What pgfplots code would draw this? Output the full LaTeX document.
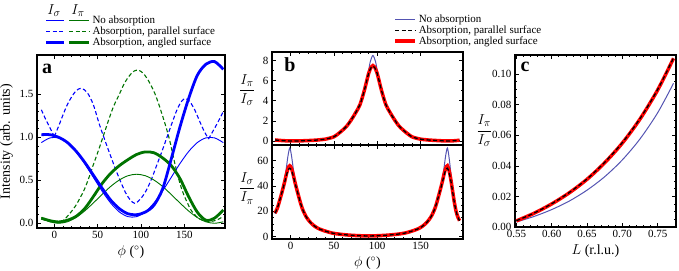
\documentclass[border=0pt]{standalone}
\usepackage{pgfplots}
\pgfplotsset{compat=1.18}
\usepackage{fontspec}
\setmainfont{Liberation Serif}
\definecolor{ablue}{rgb}{0,0,1}
\definecolor{agreen}{rgb}{0,0.45,0}
\definecolor{bblue}{rgb}{0.33,0.33,0.70}
\pgfplotsset{
  every axis/.append style={
    scale only axis,
    axis line style={line width=1.1pt},
    tick style={black, line width=0.6pt},
    major tick length=4pt, minor tick length=2pt,
    tick align=inside,
    tick label style={font=\fontsize{11}{12}\selectfont},
    /pgf/number format/assume math mode=true,
    label style={font=\fontsize{14}{16}\selectfont},
    scaled x ticks=false, scaled y ticks=false,
  },
}
\begin{document}
\begin{tikzpicture}
\useasboundingbox (0,0) rectangle (679pt,270pt);

% ---------------- Panel a ----------------
\begin{axis}[at={(37pt,42pt)}, width=188pt, height=173pt,
  xmin=-20, xmax=197, ymin=-0.055, ymax=1.957,
  xtick={0,50,100,150}, minor x tick num=4,
  ytick={0,0.5,1,1.5}, minor y tick num=4,
  yticklabel style={/pgf/number format/.cd, fixed, fixed zerofill, precision=1},
  xlabel={$\phi$ ($^\circ$)}, ylabel={Intensity (arb. units)},
  legend style={at={(0.04,1.237)}, anchor=north west, draw=none, fill=none,
    font=\fontsize{11}{12}\selectfont, row sep=-2.5pt, inner sep=0pt},
  legend cell align=left]
% absorption, parallel surface (dashed)
\addplot[agreen, line width=1.1pt, dash pattern=on 4pt off 2.5pt, smooth, forget plot] coordinates {
(-15,0.05) (-5,0.02) (5,0.02) (10,0.03) (15,0.08) (20,0.14) (25,0.21) (30,0.30) (35,0.40) (41,0.56) (45,0.68) (50,0.82) (56,1.00) (62,1.18) (68,1.35) (75,1.50) (81,1.63) (87,1.72) (92,1.77) (97,1.78) (102,1.75) (108,1.67) (116,1.51) (122,1.34) (128,1.15) (133,0.97) (139,0.70) (144,0.50) (148,0.37) (153,0.25) (158,0.15) (165,0.07) (172,0.03) (180,0.02) (188,0.04) (195,0.08)};
\addplot[ablue, line width=1.1pt, dash pattern=on 4pt off 2.5pt, smooth, forget plot] coordinates {
(-15,1.32) (-10,1.21) (-5,1.11) (0,1.01)};
\addplot[ablue, line width=1.1pt, dash pattern=on 4pt off 2.5pt, smooth, forget plot] coordinates {
(0,1.01) (5,1.13) (10,1.26) (15,1.38) (20,1.47) (25,1.54) (31,1.57) (38,1.52) (45,1.38) (52,1.15) (60,0.92) (68,0.70) (75,0.52) (82,0.36) (87,0.28) (93,0.23) (100,0.29) (106,0.38) (112,0.51) (118,0.67) (124,0.83) (130,1.00) (136,1.17) (142,1.33) (147,1.42) (151,1.45) (156,1.42) (162,1.32) (168,1.18) (173,1.07) (178,0.98)};
\addplot[ablue, line width=1.1pt, dash pattern=on 4pt off 2.5pt, smooth, forget plot] coordinates {
(178,0.98) (183,1.07) (188,1.16) (195,1.30)};
% no absorption (thin)
\addplot[agreen, line width=0.9pt, smooth, forget plot] coordinates {
(-15,0.067) (-5,0.017) (5,0) (15,0.017) (25,0.067) (35,0.143) (45,0.236) (55,0.334) (65,0.428) (75,0.503) (85,0.553) (95,0.57) (105,0.553) (115,0.503) (125,0.428) (135,0.334) (145,0.236) (155,0.143) (165,0.067) (175,0.017) (185,0) (195,0.017)};
\addplot[ablue, line width=0.9pt, smooth, forget plot] coordinates {
(-15,0.938) (-5,0.993) (5,0.993) (15,0.938) (25,0.834) (35,0.694) (45,0.535) (55,0.376) (65,0.236) (75,0.132) (85,0.077) (95,0.077) (105,0.132) (115,0.236) (125,0.376) (135,0.535) (145,0.694) (155,0.834) (165,0.938) (175,0.993) (185,0.993) (195,0.938)};
% absorption, angled surface (thick)
\addplot[agreen, line width=2.8pt, smooth, forget plot] coordinates {
(-15,0.06) (-5,0.03) (5,0.015) (15,0.035) (25,0.08) (35,0.17) (45,0.31) (55,0.46) (65,0.58) (75,0.67) (85,0.74) (95,0.80) (105,0.83) (115,0.82) (125,0.76) (135,0.67) (145,0.52) (155,0.31) (165,0.13) (175,0.035) (185,0.06) (195,0.155)};
\addplot[ablue, line width=2.8pt, smooth, forget plot] coordinates {
(-15,1.03) (-5,1.03) (5,1.00) (15,0.94) (25,0.84) (35,0.71) (45,0.56) (55,0.41) (65,0.27) (75,0.17) (85,0.11) (95,0.10) (105,0.13) (115,0.21) (125,0.40) (135,0.75) (145,1.12) (155,1.45) (165,1.72) (175,1.85) (185,1.88) (195,1.79)};
% legend
\addlegendimage{legend image code/.code={\draw[ablue,line width=0.9pt](0pt,0pt)--(18pt,0pt);\draw[agreen,line width=0.9pt](23pt,0pt)--(43pt,0pt);}}
\addlegendentry{No absorption}
\addlegendimage{legend image code/.code={\draw[ablue,line width=1.1pt,dash pattern=on 4pt off 2.5pt](0pt,0pt)--(18pt,0pt);\draw[agreen,line width=1.1pt,dash pattern=on 4pt off 2.5pt](23pt,0pt)--(43pt,0pt);}}
\addlegendentry{Absorption, parallel surface}
\addlegendimage{legend image code/.code={\draw[ablue,line width=2.8pt](0pt,0pt)--(18pt,0pt);\draw[agreen,line width=2.8pt](23pt,0pt)--(43pt,0pt);}}
\addlegendentry{Absorption, angled surface}
\end{axis}
\node[font=\fontsize{15}{16}\selectfont] at (54pt,259pt) {$I_\sigma$};
\node[font=\fontsize{15}{16}\selectfont] at (78pt,259pt) {$I_\pi$};
\node[font=\fontsize{20}{22}\selectfont\bfseries] at (47pt,201pt) {a};

% ---------------- Panel b, top ----------------
\begin{axis}[at={(272pt,125pt)}, width=191pt, height=93pt,
  xmin=-21.5, xmax=199, ymin=-0.4, ymax=8.85,
  xtick={0,50,100,150}, xticklabels={}, minor x tick num=4,
  ytick={0,2,4,6,8}, minor y tick num=1,
  ylabel={\fontsize{15}{17}\selectfont$\displaystyle\frac{I_\pi}{I_\sigma}$},
  ylabel style={rotate=-90, at={(rel axis cs:-0.13,0.59)}, anchor=center},
  legend style={at={(0.634,1.42)}, anchor=north west, draw=none, fill=none,
    font=\fontsize{11}{12}\selectfont, row sep=-2.5pt, inner sep=0pt},
  legend cell align=left,
  legend image code/.code={\draw[#1](0pt,0pt)--(20pt,0pt);}]
\addplot[bblue, line width=1pt, smooth, forget plot] coordinates {
(-18,0.10) (-10,0.04) (0,0.0) (10,0.01) (20,0.04) (30,0.09) (40,0.18) (45,0.28) (50,0.42) (55,0.72) (60,1.08) (65,1.5) (70,2.1) (75,2.85) (80,3.7) (85,5.1) (88,6.3) (90,7.0) (92,7.9) (95,8.5) (98,7.9) (100,7.0) (102,6.3) (105,5.1) (110,3.7) (115,2.85) (120,2.1) (125,1.5) (130,1.08) (135,0.72) (140,0.42) (145,0.28) (150,0.18) (160,0.09) (170,0.04) (180,0.0) (190,0.03) (195,0.08)};
\addplot[red, line width=3.5pt, smooth, forget plot] coordinates {
(-18,0.10) (-10,0.04) (0,0.0) (10,0.01) (20,0.04) (30,0.09) (40,0.18) (45,0.28) (50,0.42) (55,0.72) (60,1.08) (65,1.5) (70,2.1) (75,2.8) (80,3.6) (85,5.0) (90,6.7) (93,7.35) (95,7.5) (97,7.35) (100,6.7) (105,5.0) (110,3.6) (115,2.8) (120,2.1) (125,1.5) (130,1.08) (135,0.72) (140,0.42) (145,0.28) (150,0.18) (160,0.09) (170,0.04) (180,0.0) (190,0.03) (195,0.08)};
\addplot[black, line width=1.3pt, dash pattern=on 4pt off 2.5pt, smooth, forget plot] coordinates {
(-18,0.10) (-10,0.04) (0,0.0) (10,0.01) (20,0.04) (30,0.09) (40,0.18) (45,0.28) (50,0.42) (55,0.72) (60,1.08) (65,1.5) (70,2.1) (75,2.8) (80,3.6) (85,5.0) (90,6.7) (93,7.3) (95,7.45) (97,7.3) (100,6.7) (105,5.0) (110,3.6) (115,2.8) (120,2.1) (125,1.5) (130,1.08) (135,0.72) (140,0.42) (145,0.28) (150,0.18) (160,0.09) (170,0.04) (180,0.0) (190,0.03) (195,0.08)};
\addlegendimage{bblue, line width=1pt}
\addlegendentry{No absorption}
\addlegendimage{black, line width=1.3pt, dash pattern=on 4pt off 2.5pt}
\addlegendentry{Absorption, parallel surface}
\addlegendimage{red, line width=3.5pt}
\addlegendentry{Absorption, angled surface}
\end{axis}
\node[font=\fontsize{20}{22}\selectfont\bfseries] at (290pt,205pt) {b};

% ---------------- Panel b, bottom ----------------
\begin{axis}[at={(272pt,31pt)}, width=191pt, height=94pt,
  xmin=-21.5, xmax=199, ymin=-2, ymax=72.4,
  xtick={0,50,100,150}, minor x tick num=4,
  ytick={0,20,40,60}, minor y tick num=3,
  xlabel={$\phi$ ($^\circ$)},
  ylabel={\fontsize{15}{17}\selectfont$\displaystyle\frac{I_\sigma}{I_\pi}$},
  ylabel style={rotate=-90, at={(rel axis cs:-0.13,0.54)}, anchor=center}]
\addplot[bblue, line width=1pt, smooth, forget plot] coordinates {
(-18,18) (-15,22.5) (-10,35) (-7,45) (-5,54) (-3,64) (-1,70) (1,64) (3,54) (5,45) (8,35) (13,23) (18,15.5) (23,11) (28,8) (33,6) (38,4.7) (48,2.7) (58,1.7) (68,1.05) (78,0.65) (90,0.4) (102,0.65) (112,1.05) (122,1.7) (132,2.7) (142,4.7) (147,6) (152,8) (157,11) (162,15.5) (167,23) (172,35) (175,45) (177,54) (179,64) (181,70) (183,62) (185,50) (187,37) (189,27) (191,20) (193,15.5) (195,12.5)};
\addplot[red, line width=3.5pt, smooth, forget plot] coordinates {
(-18,18.5) (-15,23) (-10,35) (-7,43) (-5,49) (-3,54) (-1,56) (1,54) (3,49) (5,43) (8,35) (13,23) (18,15.5) (23,11) (28,8) (33,6) (38,4.7) (48,2.7) (58,1.7) (68,1.05) (78,0.65) (90,0.4) (102,0.65) (112,1.05) (122,1.7) (132,2.7) (142,4.7) (147,6) (152,8) (157,11) (162,15.5) (167,23) (172,35) (175,43) (177,49) (179,54) (181,56) (183,52) (185,45) (187,36) (189,27) (191,20) (193,15.5) (195,12.5)};
\addplot[black, line width=1.3pt, dash pattern=on 4pt off 2.5pt, smooth, forget plot] coordinates {
(-18,18.5) (-15,23) (-10,35) (-7,42.5) (-5,48) (-3,52.5) (-1,54) (1,52.5) (3,48) (5,42.5) (8,35) (13,23) (18,15.5) (23,11) (28,8) (33,6) (38,4.7) (48,2.7) (58,1.7) (68,1.05) (78,0.65) (90,0.4) (102,0.65) (112,1.05) (122,1.7) (132,2.7) (142,4.7) (147,6) (152,8) (157,11) (162,15.5) (167,23) (172,35) (175,42.5) (177,48) (179,52.5) (181,54) (183,50.5) (185,44) (187,35.5) (189,27) (191,20) (193,15.5) (195,12.5)};
\end{axis}

% ---------------- Panel c ----------------
\begin{axis}[at={(515pt,43pt)}, width=161pt, height=172pt,
  xmin=0.548, xmax=0.776, ymin=0, ymax=0.1125,
  xtick={0.55,0.60,0.65,0.70,0.75}, minor x tick num=4,
  ytick={0,0.02,0.04,0.06,0.08,0.10}, minor y tick num=3,
  xticklabel style={/pgf/number format/.cd, fixed, fixed zerofill, precision=2},
  yticklabel style={/pgf/number format/.cd, fixed, fixed zerofill, precision=2},
  xlabel={$L$ (r.l.u.)},
  ylabel={\fontsize{15}{17}\selectfont$\displaystyle\frac{I_\pi}{I_\sigma}$},
  ylabel style={rotate=-90, at={(rel axis cs:-0.19,0.56)}, anchor=center}]
\addplot[bblue, line width=1pt, smooth, forget plot] coordinates {
(0.55,0.0033) (0.575,0.0069) (0.60,0.0114) (0.625,0.0170) (0.65,0.0241) (0.675,0.0329) (0.70,0.0439) (0.725,0.0576) (0.75,0.0747) (0.7725,0.0940)};
\addplot[red, line width=3.5pt, smooth, forget plot] coordinates {
(0.55,0.0040) (0.575,0.0090) (0.60,0.0151) (0.625,0.0224) (0.65,0.0312) (0.675,0.0420) (0.70,0.0549) (0.725,0.0706) (0.75,0.0896) (0.7725,0.1103)};
\addplot[black, line width=1.3pt, dash pattern=on 4pt off 2.5pt, smooth, forget plot] coordinates {
(0.55,0.0041) (0.575,0.0091) (0.60,0.0152) (0.625,0.0226) (0.65,0.0314) (0.675,0.0423) (0.70,0.0552) (0.725,0.0709) (0.75,0.0899) (0.7725,0.1106)};
\end{axis}
\node[font=\fontsize{20}{22}\selectfont\bfseries] at (525pt,203pt) {c};
\end{tikzpicture}
\end{document}
